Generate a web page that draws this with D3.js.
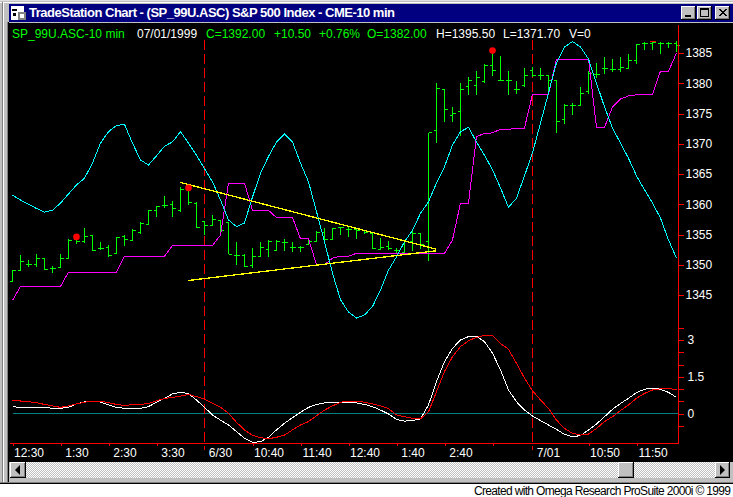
<!DOCTYPE html>
<html>
<head>
<meta charset="utf-8">
<script src="https://cdn.jsdelivr.net/npm/d3@7/dist/d3.min.js"></script>
<style>
  html, body { margin: 0; padding: 0; background: #fff; overflow: hidden; }
  text { font-family: "Liberation Sans", Arial, sans-serif; font-size: 12px; }
  svg { display: block; }
</style>
</head>
<body>
<div id="chart"></div>
<script>
// one value per 10 min bar
const opens = [
  1347.3,1349.1,1350.1,1350.1,1351.0,1349.3,1349.6,1351.1,1354.1,1353.8,
  1354.8,1352.7,1352.9,1351.8,1354.7,1354.0,1355.4,1356.6,1358.9,1359.8,
  1360.0,1358.9,1362.4,1360.2,1357.1,1356.5,1357.3,1357.0,1351.6,1351.6,
  1349.8,1351.4,1352.5,1352.3,1353.6,1352.9,1352.9,1353.3,1353.9,1355.4,
  1354.1,1356.1,1355.9,1355.8,1355.6,1355.2,1352.5,1353.0,1352.4,1352.1,
  1353.9,1355.1,1353.9,1372.2,1378.9,1374.6,1375.3,1379.4,1379.6,1380.3,
  1383.0,1380.5,1380.5,1378.9,1379.7,1382.1,1381.2,1381.2,1380.5,1374.0,
  1376.4,1376.3,1378.6,1381.4,1382.5,1382.3,1382.3,1382.5,1383.7,1386.5,
  1386.6,1386.6,1386.5,1386.6
];
const highs = [
  1349.2,1351.6,1350.8,1351.8,1351.0,1349.8,1351.8,1354.2,1354.9,1356.1,
  1354.8,1353.8,1353.2,1354.6,1354.9,1355.9,1357.1,1359.0,1359.7,1361.4,
  1360.5,1362.8,1362.9,1360.3,1357.1,1358.2,1357.4,1357.1,1353.8,1351.8,
  1352.8,1353.8,1354.1,1354.1,1354.2,1353.8,1353.1,1354.2,1355.5,1356.0,
  1356.0,1356.2,1356.2,1356.0,1355.7,1355.4,1354.4,1353.9,1352.7,1353.9,
  1355.5,1355.2,1371.8,1380.0,1379.0,1376.1,1380.0,1381.0,1382.0,1383.2,
  1385.2,1384.5,1382.0,1380.4,1382.5,1382.7,1382.5,1381.4,1380.5,1376.5,
  1376.8,1379.3,1382.0,1383.3,1384.3,1384.0,1384.3,1384.9,1386.5,1386.9,
  1386.9,1386.9,1386.9,1387.0
];
const lows = [
  1347.3,1349.0,1349.7,1349.7,1349.2,1348.7,1349.5,1351.0,1353.5,1353.6,
  1352.3,1352.4,1351.3,1351.7,1353.1,1353.9,1355.1,1356.5,1357.9,1359.3,
  1357.9,1358.8,1359.8,1356.1,1354.9,1356.4,1354.8,1351.7,1349.9,1349.6,
  1349.4,1351.3,1351.2,1352.2,1352.2,1352.1,1352.1,1353.2,1353.8,1353.8,
  1354.1,1354.9,1354.6,1354.3,1355.1,1352.6,1352.4,1352.4,1351.8,1352.0,
  1352.2,1352.6,1350.7,1370.2,1373.6,1373.6,1371.2,1378.1,1378.1,1380.0,
  1381.2,1380.3,1378.1,1378.2,1379.3,1381.0,1380.5,1378.1,1371.8,1373.2,
  1374.8,1376.2,1378.2,1380.8,1381.6,1381.8,1381.9,1382.3,1383.1,1385.5,
  1385.5,1384.9,1385.8,1385.2
];
const closes = [
  1349.0,1350.5,1350.1,1351.0,1349.2,1349.3,1351.1,1354.0,1353.9,1354.7,
  1352.4,1352.7,1351.6,1354.5,1354.1,1355.6,1356.8,1358.9,1359.6,1359.8,
  1359.3,1362.4,1360.3,1356.2,1356.5,1357.4,1355.7,1351.7,1351.6,1349.7,
  1351.4,1352.9,1353.9,1353.9,1353.6,1352.9,1352.9,1353.9,1355.4,1354.1,
  1356.0,1356.1,1355.9,1355.7,1355.4,1352.7,1352.9,1352.7,1352.4,1353.8,
  1355.2,1353.4,1371.8,1379.2,1375.7,1375.0,1379.0,1380.5,1380.9,1383.0,
  1382.1,1380.5,1380.5,1378.9,1381.2,1381.2,1381.2,1380.5,1373.6,1376.3,
  1376.4,1378.3,1381.6,1381.4,1382.5,1382.3,1382.6,1383.8,1386.4,1386.5,
  1386.7,1386.6,1386.5,1386.2
];
const cyanLine = [
  1361.5,1360.7,1360.0,1359.3,1358.7,1359.0,1360.2,1361.7,1363.2,1364.3,
  1366.8,1370.1,1372.0,1373.0,1373.2,1370.1,1367.3,1366.5,1368.0,1369.6,
  1370.3,1372.0,1370.1,1368.1,1365.9,1363.7,1360.7,1357.4,1356.3,1356.9,
  1361.2,1365.1,1367.9,1370.3,1371.6,1370.3,1366.8,1363.7,1358.8,1353.8,
  1348.6,1344.2,1342.2,1341.2,1341.7,1343.1,1345.8,1349.1,1351.3,1353.8,
  1355.7,1358.5,1360.4,1363.5,1366.2,1369.8,1372.0,1372.7,1370.3,1368.1,
  1365.7,1362.7,1359.5,1361.0,1364.7,1368.5,1373.4,1378.4,1383.4,1386.0,
  1386.9,1386.0,1384.0,1380.0,1376.1,1372.6,1370.1,1367.6,1364.7,1362.4,
  1360.2,1357.7,1354.1,1351.1
];
const magentaLine = [
  1344.1,1346.4,1346.4,1346.4,1346.4,1346.4,1346.4,1348.8,1348.8,1348.8,
  1348.8,1348.8,1348.8,1348.8,1351.4,1351.4,1351.4,1351.4,1351.4,1351.4,
  1353.2,1353.2,1353.2,1353.2,1353.2,1353.2,1354.9,1363.5,1363.5,1363.5,
  1359.0,1359.0,1359.0,1357.8,1357.8,1357.8,1354.3,1354.3,1350.0,1350.0,
  1351.1,1351.4,1351.4,1351.9,1351.9,1351.9,1351.9,1351.9,1351.9,1351.9,
  1351.9,1351.9,1351.9,1351.9,1351.9,1354.1,1360.2,1360.2,1371.2,1371.7,
  1371.8,1372.4,1372.4,1372.5,1372.6,1378.2,1378.2,1378.2,1384.0,1384.0,
  1384.0,1384.0,1384.0,1372.7,1372.7,1376.1,1377.4,1377.9,1378.1,1378.1,
  1378.2,1382.0,1382.0,1385.0
];
const whiteLine = [
  .28,.25,.25,.25,.25,.21,.21,.25,.39,.47,
  .50,.47,.35,.25,.21,.21,.21,.28,.46,.62,
  .80,.86,.82,.55,.25,-.06,-.27,-.47,-.74,-1.01,
  -1.18,-1.15,-.97,-.67,-.40,-.17,.05,.25,.37,.43,
  .43,.43,.43,.43,.37,.28,.14,-.02,-.24,-.31,
  -.29,-.22,.35,1.30,2.12,2.66,3.0,3.14,3.16,2.93,
  2.46,1.78,.96,.48,.14,-.10,-.29,-.47,-.65,-.85,
  -.95,-.90,-.67,-.43,-.13,.17,.41,.62,.85,.99,
  1.03,.99,.86,.66
];
const redLine = [
  .54,.51,.48,.44,.37,.31,.25,.31,.39,.46,
  .50,.50,.44,.37,.33,.36,.37,.41,.52,.61,
  .66,.71,.78,.69,.59,.41,.25,.01,-.36,-.67,
  -.89,-.99,-1.03,-.97,-.88,-.67,-.47,-.33,-.09,.14,
  .31,.46,.50,.50,.46,.39,.31,.20,-.06,-.13,
  -.20,-.22,.07,.89,1.71,2.32,2.73,2.97,3.11,3.19,
  3.19,2.86,2.62,2.05,1.44,.93,.55,.21,-.27,-.61,
  -.81,-.88,-.84,-.61,-.33,-.13,.12,.35,.62,.82,
  .96,1.01,1.03,.96
];

const priceTicks = [1345,1350,1355,1360,1365,1370,1375,1380,1385];
const lowerTicks = [-.5,0,.5,1,1.5,2,2.5,3,3.5];
const lowerLabels = [0,1.5,3];
const timeTicks = [0,6,12,18,30,36,42,48,54,60,72,78];
const timeLabels = ["12:30","1:30","2:30","3:30","10:40","11:40","12:40","1:40","2:40","","10:50","11:50"];
const dayBreaks = [24,65];
const dayLabels = ["6/30","7/01"];
const swingHighs = [[8,1354.6],[22,1362.7],[60,1385.4]];
const trendLines = [[[21,1363.6],[52.9,1352.6]],[[22,1347.4],[52.9,1352.3]]];
const headerTexts = [
  ["SP_99U.ASC-10 min",12,"#00ff00"],["07/01/1999",137,"#fff"],["C=1392.00",206,"#00ff00"],
  ["+10.50",274,"#00ff00"],["+0.76%",319,"#00ff00"],["O=1382.00",367,"#00ff00"],
  ["H=1395.50",436,"#fff"],["L=1371.70",503,"#fff"],["V=0",569,"#fff"]
];

const width = 733, height = 497;
const svg = d3.select("#chart").append("svg").attr("width", width).attr("height", height);

const rect = (x,y,w,h,c) => svg.append("rect").attr("x",x).attr("y",y).attr("width",w).attr("height",h).attr("fill",c);

// window frame
rect(0,0,width,484,"#c0c0c0");
rect(0,0,width,1,"#dfdfdf");
rect(0,2,width,1,"#fff");
rect(2,2,1,481,"#808080");
rect(3,3,1,480,"#fff");
rect(7,22,1,460,"#808080");
rect(8,22,1,460,"#000");
rect(0,482,width,1,"#808080");
rect(0,483,width,1,"#000");
rect(0,484,width,13,"#fff");
rect(9,4,724,18,"#000080");
rect(9,23,724,439,"#000");

// title bar icon
rect(11,6,13,14,"#fff");
rect(18,12,8,8,"#808080");
rect(20,14,4,4,"#fff");
rect(12,9,5,2,"#000");
rect(13,13,3,3,"#000");

svg.append("text").attr("x",29).attr("y",17).attr("fill","#fff")
  .style("font-weight","bold").style("font-size","13px").attr("textLength",366)
  .text("TradeStation Chart - (SP_99U.ASC) S&P 500 Index - CME-10 min");

// title bar buttons
const button = (x,y,w,h) => {
  rect(x,y,w,h,"#000");
  rect(x,y,w-1,h-1,"#fff");
  rect(x+1,y+1,w-2,h-2,"#808080");
  rect(x+1,y+1,w-3,h-3,"#c0c0c0");
};
button(681,6,15,14);
button(697,6,15,14);
button(715,6,15,14);
rect(685,15,6,2,"#000");
rect(700,8,9,9,"#000");
rect(701,10,7,6,"#c0c0c0");
svg.append("path").attr("d","M719 9L726 16M720 9L727 16M726 9L719 16M727 9L720 16").attr("stroke","#000").attr("fill","none");

// scrollbar
const defs = svg.append("defs");
const hatch = defs.append("pattern").attr("id","hatch").attr("width",2).attr("height",2).attr("patternUnits","userSpaceOnUse");
hatch.append("rect").attr("width",2).attr("height",2).attr("fill","#c0c0c0");
hatch.append("rect").attr("width",1).attr("height",1).attr("fill","#fff");
hatch.append("rect").attr("x",1).attr("y",1).attr("width",1).attr("height",1).attr("fill","#fff");
rect(10,462,720,16,"url(#hatch)");
button(10,462,16,16);
button(618,462,16,16);
button(715,462,15,16);
svg.append("path").attr("d","M15 470L20 465V475Z").attr("fill","#000");
svg.append("path").attr("d","M725 470L720 465V475Z").attr("fill","#000");

svg.append("text").attr("x",731).attr("y",495).attr("text-anchor","end").attr("fill","#000")
  .attr("textLength",257).text("Created with Omega Research ProSuite 2000i \u00a9 1999");

// scales
const x = d3.scaleLinear().domain([0,83]).range([12.5,676.5]);
const y = d3.scaleLinear().domain([1345,1385]).range([295,53]);
const yLower = d3.scaleLinear().domain([0,3]).range([413.5,340]);

// header
svg.append("g").selectAll("text").data(headerTexts).enter().append("text")
  .attr("x",d=>d[1]).attr("y",38).attr("fill",d=>d[2]).text(d=>d[0]);

// teal zero line
svg.append("line").attr("x1",x(0)).attr("x2",678).attr("y1",yLower(0)).attr("y2",yLower(0))
  .attr("stroke","#008080").attr("shape-rendering","crispEdges");

// day separators
svg.append("g").selectAll("line").data(dayBreaks).enter().append("line")
  .attr("x1",d=>x(d)).attr("x2",d=>x(d)).attr("y1",40).attr("y2",450)
  .attr("stroke","#ff0000").attr("stroke-dasharray","10 4").attr("shape-rendering","crispEdges");

const bars = d3.range(opens.length);
const plotLine = (vals,scale,color,w) => {
  const line = d3.line().x((d,i)=>x(i)).y(d=>scale(d));
  svg.append("path").attr("d",line(vals)).attr("fill","none").attr("stroke",color)
    .attr("stroke-width",w||1).attr("shape-rendering","crispEdges");
};

// price bars
const barG = svg.append("g").attr("stroke","#00ff00").attr("shape-rendering","crispEdges");
barG.selectAll(".hl").data(bars).enter().append("line")
  .attr("x1",i=>x(i)).attr("x2",i=>x(i)).attr("y1",i=>y(highs[i])).attr("y2",i=>y(lows[i]));
barG.selectAll(".op").data(bars).enter().append("line")
  .attr("x1",i=>x(i)-3).attr("x2",i=>x(i)).attr("y1",i=>y(opens[i])).attr("y2",i=>y(opens[i]));
barG.selectAll(".cl").data(bars).enter().append("line")
  .attr("x1",i=>x(i)).attr("x2",i=>x(i)+3).attr("y1",i=>y(closes[i])).attr("y2",i=>y(closes[i]));

plotLine(magentaLine,y,"#ff00ff");
plotLine(cyanLine,y,"#00ffff");

// trend lines
const trend = d3.line().x(d=>x(d[0])).y(d=>y(d[1]));
trendLines.forEach(t=>{
  svg.append("path").attr("d",trend(t)).attr("fill","none").attr("stroke","#ffff00")
    .attr("stroke-width",1.3).attr("shape-rendering","crispEdges");
});

// swing markers
svg.append("g").selectAll("circle").data(swingHighs).enter().append("circle")
  .attr("cx",d=>x(d[0])).attr("cy",d=>y(d[1])).attr("r",3.3).attr("fill","#ff0000");
svg.append("line").attr("x1",x(80)-3).attr("x2",x(80)+3).attr("y1",y(highs[80])).attr("y2",y(highs[80]))
  .attr("stroke","#ff0000").attr("shape-rendering","crispEdges");

// lower pane
plotLine(whiteLine,yLower,"#ffffff");
plotLine(redLine,yLower,"#ff0000");

// axes
const styleAxis = g => {
  g.select(".domain").remove();
  g.selectAll("line").attr("stroke","#ff0000").attr("shape-rendering","crispEdges");
  g.selectAll("text").attr("fill","#fff").style("font-size","12px").style("font-family",'"Liberation Sans", Arial, sans-serif');
};
svg.append("g").attr("transform","translate(678.5,0)")
  .call(d3.axisRight(y).tickValues(priceTicks).tickSize(5).tickPadding(2).tickFormat(d3.format("d")))
  .call(styleAxis);
svg.append("g").attr("transform","translate(678.5,0)")
  .call(d3.axisRight(yLower).tickValues(lowerTicks).tickSize(5).tickPadding(4).tickFormat(d=>lowerLabels.includes(d)?String(d):""))
  .call(styleAxis);
svg.append("g").attr("transform","translate(0,443.5)")
  .call(d3.axisBottom(x).tickValues(timeTicks).tickSize(2).tickPadding(1).tickFormat((d,i)=>timeLabels[i]))
  .call(styleAxis)
  .selectAll("text").attr("dx",16).attr("dy",".9em");
svg.append("g").selectAll("text").data(dayLabels).enter().append("text")
  .attr("x",(d,i)=>x(dayBreaks[i])+16).attr("y",457).attr("text-anchor","middle").attr("fill","#fff").text(d=>d);

// axis lines
svg.append("line").attr("x1",678.5).attr("x2",678.5).attr("y1",25).attr("y2",443.5)
  .attr("stroke","#ff0000").attr("shape-rendering","crispEdges");
svg.append("line").attr("x1",10).attr("x2",678.5).attr("y1",443.5).attr("y2",443.5)
  .attr("stroke","#ff0000").attr("shape-rendering","crispEdges");
</script>
</body>
</html>
